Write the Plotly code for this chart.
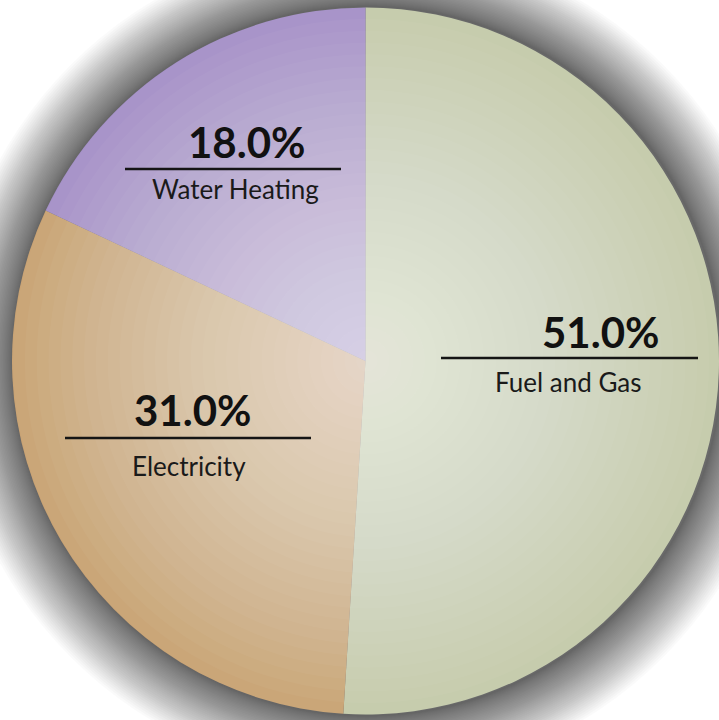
import plotly.graph_objects as go

# ---- data ----
categories = ["Fuel and Gas", "Electricity", "Water Heating"]
shares = [51.0, 31.0, 18.0]
slice_colors = ["#c4cbab", "#c9a374", "#a591c8"]

W, H = 719, 720
CX, CY, R = 367, 361, 355  # pixel geometry of the pie (styling only)


def px_x(x):
    return x / W


def px_y(y):
    return 1 - y / H


fig = go.Figure()
fig.add_trace(go.Pie(
    labels=categories,
    values=shares,
    sort=False,
    direction="clockwise",
    rotation=0,
    marker=dict(colors=slice_colors, line=dict(width=0)),
    textinfo="none",
    hoverinfo="label+percent",
    showlegend=False,
    domain=dict(x=[px_x(CX - R), 1.0], y=[px_y(CY + R), px_y(CY - R)]),
))

shapes = []
# soft shadow halo behind the pie (denser near the rim)
N_HALO = 40
for k in range(N_HALO, 0, -1):
    rr = R + 64 * (k / N_HALO) ** 1.3
    shapes.append(dict(
        type="circle", xref="paper", yref="paper", layer="below",
        x0=px_x(CX - rr), x1=px_x(CX + rr), y0=px_y(CY + rr), y1=px_y(CY - rr),
        fillcolor="rgba(0,0,0,0.018)", line=dict(width=0),
    ))
# radial light sheen over the pie (lighter toward center)
N_SHEEN = 30
for k in range(1, N_SHEEN + 1):
    rr = R * (1 - (k - 1) / N_SHEEN) - 1
    shapes.append(dict(
        type="circle", xref="paper", yref="paper", layer="above",
        x0=px_x(CX - rr), x1=px_x(CX + rr), y0=px_y(CY + rr), y1=px_y(CY - rr),
        fillcolor="rgba(255,255,255,0.035)", line=dict(width=0),
    ))

# label layout per category: (pct center x, pct center y, line x0, line x1, line y, name x, name y)
label_pos = {
    "Fuel and Gas": (600, 332, 441, 698, 358, 568, 382),
    "Electricity": (192, 410, 65, 311, 438, 189, 466),
    "Water Heating": (246, 142, 125, 341, 169, 235, 189),
}

annotations = []
for cat, val in zip(categories, shares):
    px_, py_, lx0, lx1, ly, nx, ny = label_pos[cat]
    annotations.append(dict(
        x=px_x(px_), y=px_y(py_), xref="paper", yref="paper",
        text=f"<b>{val:.1f}%</b>", showarrow=False,
        xanchor="center", yanchor="middle",
        font=dict(family="Lato, Carlito, sans-serif", size=42, color="#111111"),
    ))
    annotations.append(dict(
        x=px_x(nx), y=px_y(ny), xref="paper", yref="paper",
        text=cat, showarrow=False,
        xanchor="center", yanchor="middle",
        font=dict(family="Lato, Carlito, sans-serif", size=26, color="#1a1a1a"),
    ))
    shapes.append(dict(
        type="line", xref="paper", yref="paper", layer="above",
        x0=px_x(lx0), x1=px_x(lx1), y0=px_y(ly), y1=px_y(ly),
        line=dict(color="#151515", width=2.5),
    ))

fig.update_layout(
    width=W, height=H,
    margin=dict(l=0, r=0, t=0, b=0),
    paper_bgcolor="white",
    plot_bgcolor="white",
    shapes=shapes,
    annotations=annotations,
    showlegend=False,
)

fig.write_html(
    "out.html",
    config={"displayModeBar": False},
    post_script="document.body.style.margin='0';document.body.style.overflow='hidden';",
)
